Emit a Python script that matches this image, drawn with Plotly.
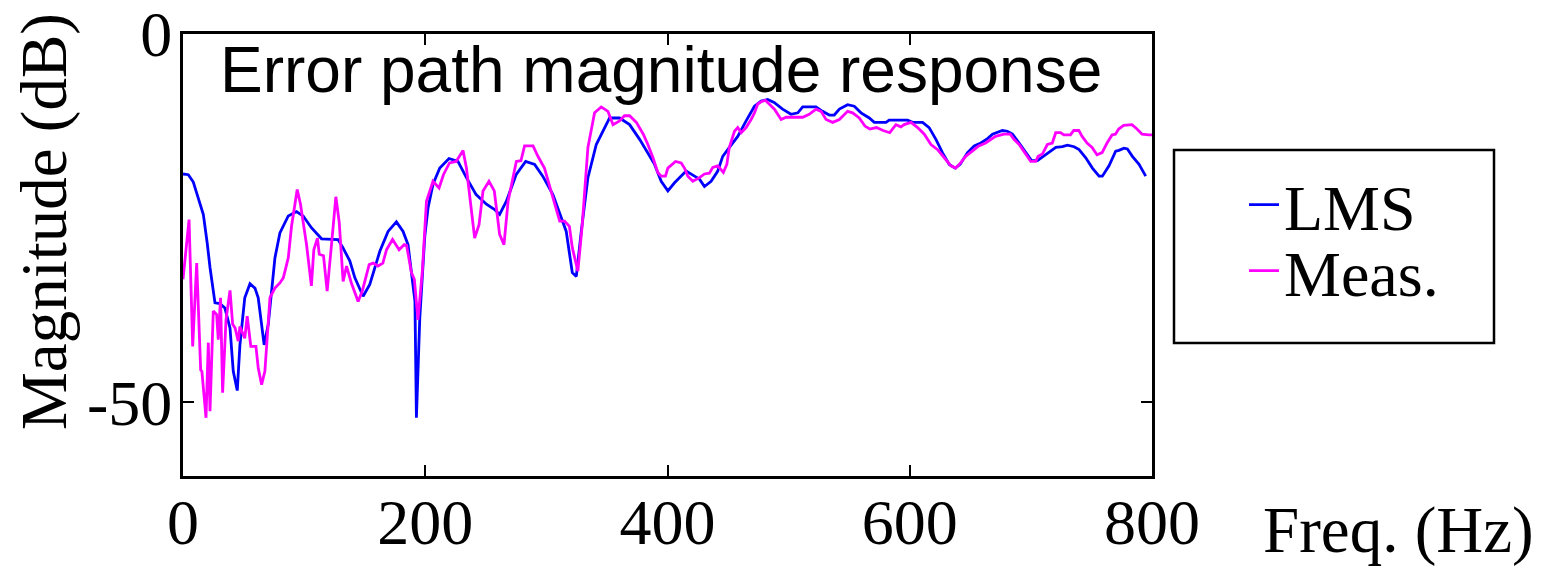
import plotly.graph_objects as go

# ---------------- data ----------------
lms_freq = [0, 4.4, 8.5, 12.6, 16.8, 20, 22.3, 26.4, 30.5, 34.6, 38.8, 41.5, 44.8, 47, 51, 55.3, 59.4,
            62.1, 67, 70.4, 75.9, 80, 86.9, 93.7, 99.2, 106, 110, 114.4, 128, 132, 137.7, 141.9, 148.7,
            154.2, 162.5, 169.3, 176.2, 181.7, 185.8, 190, 191.5, 192.7, 195.5, 199.6, 202.3, 206.4, 212,
            219.6, 227, 234, 242, 250.5, 257, 261.4, 267, 275, 282.9, 290.3, 297, 305.4, 311, 316.4, 321.4,
            324.7, 328.8, 334.3, 341.2, 352.2, 360.4, 368.7, 377, 382.4, 389.3, 394.8, 400.3, 405.8, 411.3,
            415.4, 422.3, 426.4, 430.5, 436, 441.5, 445.6, 451.1, 458, 464.9, 471.8, 477.3, 482.7, 488, 495,
            502, 507.6, 511.6, 522.6, 528, 533.6, 537.7, 541.9, 548.7, 554.2, 559.8, 566.6, 570.7, 580.4,
            583, 598.2, 602.3, 610.6, 616, 621.6, 627, 632.6, 637.5, 641.6, 647.7, 653.2, 658.7, 664.2,
            668.3, 672.4, 676.5, 680.6, 684.8, 690.3, 695.8, 700.7, 705.4, 709.5, 715, 720.6, 726, 730.2,
            735.7, 739.8, 745.3, 750.8, 756.3, 759, 764.5, 770, 772.7, 776.9, 779.7, 783.8, 789.3, 794.8]
lms_db = [-19.0, -19.1, -20.1, -22.2, -24.5, -28.4, -31.7, -36.5, -36.6, -37.2, -39.9, -45.8, -48.4, -42.2,
          -35.8, -33.9, -34.5, -35.8, -42.2, -39.4, -30.4, -27.0, -24.7, -24.1, -24.7, -26.3, -27.0, -27.8,
          -27.9, -29.0, -30.8, -33.1, -35.6, -34.0, -29.5, -26.8, -25.5, -26.8, -28.6, -33.8, -36.3, -52.1,
          -38.5, -27.5, -23.6, -20.4, -18.2, -16.9, -17.3, -19.5, -21.8, -23.1, -23.8, -24.5, -22.7, -19.1,
          -17.3, -17.7, -19.3, -21.8, -24.5, -26.8, -32.4, -32.9, -26.8, -19.5, -15.0, -11.4, -11.4, -12.3,
          -14.3, -15.8, -17.7, -20.0, -21.3, -20.2, -19.3, -18.6, -19.3, -19.7, -20.7, -20.0, -18.6, -16.6,
          -15.4, -13.9, -11.8, -9.8, -9.1, -8.9, -9.3, -10.2, -10.9, -10.7, -9.9, -9.9, -10.5, -11.0, -11.0,
          -10.2, -9.6, -9.8, -10.7, -11.4, -12.0, -12.0, -11.7, -11.7, -12.0, -12.0, -12.7, -14.3, -16.1,
          -17.7, -18.2, -17.7, -16.1, -15.2, -14.8, -14.2, -13.6, -13.4, -13.1, -13.2, -13.6, -14.8, -16.1,
          -17.2, -17.2, -16.7, -16.1, -15.4, -15.3, -15.1, -15.3, -15.7, -16.8, -18.2, -19.3, -19.3, -17.9,
          -15.9, -15.8, -15.5, -15.6, -16.6, -17.7, -19.3]

meas_freq = [0, 5, 8, 11.3, 14.6, 15.6, 19, 20.9, 22.3, 25, 27.8, 29.1, 31, 32.7, 35.5, 38.8, 41, 43, 45.6,
             47, 51, 53, 56, 60.2, 62.1, 64.9, 67.6, 71.8, 75.9, 80, 82.8, 86.9, 89.6, 94.3, 97, 102, 106,
             108, 111, 112.5, 116, 119, 122.6, 126.2, 129, 132.2, 135, 139, 144.6, 148, 153.7, 157, 161, 165,
             168, 173, 178.4, 182.6, 184.6, 188.6, 191, 194, 197.6, 201, 206.4, 211.4, 215, 220, 225.5, 231.2,
             234, 238, 240.8, 244.4, 247.7, 252.6, 257, 261.4, 265, 268.4, 275.2, 279, 282, 289, 293, 298.4,
             305.4, 311, 315, 319, 321.4, 326, 329.6, 334.3, 339.8, 345.3, 350.8, 355, 360.4, 364.5, 368.7,
             374.3, 380, 383.8, 388, 392, 394.8, 398.3, 400.3, 406.6, 411.3, 414, 416.8, 420.9, 426.4, 430.5,
             434.6, 437.4, 441.5, 446.1, 449, 451, 455.3, 458, 460.8, 464.9, 469, 471.8, 474.5, 477.3, 480.8,
             484.7, 488.3, 491, 493.8, 497.9, 503, 511.6, 517, 522.6, 526.8, 530.9, 536.4, 541.9, 548.7,
             552.8, 558.3, 563, 567, 572.5, 578, 583.5, 588.6, 592.7, 595.4, 601, 606.5, 612, 617.5, 623,
             628.5, 634, 638, 642, 646.2, 651.6, 657, 662.6, 666.7, 670.8, 677.7, 683, 686, 690.3, 695.8,
             699.9, 704, 706, 709.5, 713.6, 717.7, 720.5, 724.5, 727.2, 732.7, 735.4, 739.6, 742.3, 746.4,
             750.5, 754.6, 758.8, 762.9, 767, 769.8, 772.5, 776.6, 783.5, 787.6, 791.8, 797.2, 800]
meas_db = [-33.3, -25.2, -42.4, -31.1, -45.6, -45.8, -52.1, -41.9, -51.2, -37.6, -38.1, -41.5, -35.8, -48.7,
           -38.8, -34.8, -39.4, -39.9, -41.7, -39.7, -41.3, -38.3, -42.4, -42.4, -45.3, -47.6, -45.8, -35.8,
           -34.5, -33.8, -33.1, -30.4, -26.1, -21.1, -23.1, -28.6, -34.2, -29.3, -27.7, -29.9, -30.1, -34.9,
           -28.6, -22.1, -25.6, -33.6, -31.5, -33.8, -36.3, -34.9, -31.3, -31.1, -31.5, -31.1, -29.3, -27.9,
           -29.3, -28.6, -28.7, -32.4, -33.3, -38.8, -32.2, -22.7, -20.0, -20.9, -19.1, -17.5, -17.3, -15.8,
           -18.2, -24.0, -27.7, -25.9, -21.3, -20.0, -21.3, -27.2, -28.6, -22.7, -17.3, -17.2, -15.2, -15.2,
           -16.6, -18.2, -22.2, -25.4, -25.4, -26.1, -29.0, -32.2, -25.9, -15.4, -10.7, -9.9, -10.5, -12.3,
           -11.8, -11.1, -11.1, -12.0, -13.6, -15.0, -16.8, -18.8, -19.3, -19.3, -18.2, -17.3, -17.5, -18.2,
           -19.3, -20.0, -19.5, -19.0, -18.9, -18.1, -17.9, -18.8, -17.7, -15.4, -13.2, -12.7, -13.4, -12.7,
           -11.6, -10.7, -9.5, -9.2, -9.0, -9.6, -10.2, -10.9, -11.6, -11.3, -11.3, -11.3, -10.9, -10.2,
           -10.5, -11.6, -12.0, -11.6, -10.5, -10.7, -11.4, -12.5, -12.9, -12.7, -13.1, -13.4, -12.3, -12.6,
           -12.3, -12.0, -12.7, -13.6, -15.0, -15.7, -16.8, -17.9, -18.2, -17.5, -16.6, -15.9, -15.2, -14.8,
           -14.4, -13.9, -13.6, -13.6, -14.3, -15.0, -16.3, -17.3, -17.3, -16.6, -16.3, -15.0, -14.8, -13.4,
           -13.4, -13.7, -13.7, -13.1, -13.1, -13.9, -14.8, -15.4, -16.4, -16.1, -14.8, -13.7, -13.6, -12.9,
           -12.4, -12.3, -12.9, -13.6, -13.7, -13.7]

x_ticks = [0, 200, 400, 600, 800]
x_tick_labels = ["0", "200", "400", "600", "800"]
y_ticks = [0, -50]
y_tick_labels = ["0", "-50"]

series_names = ["LMS", "Meas."]
series_colors = ["#0000FF", "#FF00FF"]

# ---------------- figure ----------------
W, H = 1543, 568
ML, MR, MT, MB = 183, 391, 34, 92
PW, PH = W - ML - MR, H - MT - MB

def px_x(px):
    return (px - ML) / PW

def px_y(py):
    return (H - MB - py) / PH

SERIF = "Liberation Serif, Times New Roman, serif"
SANS = "Liberation Sans, Arial, sans-serif"

fig = go.Figure()
fig.add_trace(go.Scatter(x=lms_freq, y=lms_db, mode="lines", name=series_names[0],
                         line=dict(color=series_colors[0], width=2.8), legend="legend",
                         cliponaxis=False))
fig.add_trace(go.Scatter(x=meas_freq, y=meas_db, mode="lines", name=series_names[1],
                         line=dict(color=series_colors[1], width=2.8), legend="legend2",
                         cliponaxis=False))

axis_common = dict(showline=True, linecolor="black", linewidth=3, mirror="ticks",
                   ticks="inside", ticklen=11, tickwidth=2, tickcolor="black",
                   showgrid=False, zeroline=False, automargin=False,
                   ticklabeloverflow="allow",
                   tickfont=dict(family=SERIF, size=64, color="black"))

fig.update_xaxes(range=[0, 800], tickvals=x_ticks, ticktext=x_tick_labels,
                 ticklabelstandoff=-12, **axis_common)
fig.update_yaxes(range=[-60, 0], tickvals=y_ticks, ticktext=y_tick_labels,
                 ticklabelstandoff=-5, **axis_common)

legend_common = dict(font=dict(family=SERIF, size=64, color="black"),
                     bgcolor="rgba(0,0,0,0)", borderwidth=0,
                     xanchor="left", yanchor="middle", itemwidth=30)

fig.update_layout(
    width=W, height=H,
    margin=dict(l=ML, r=MR, t=MT, b=MB, pad=0, autoexpand=False),
    paper_bgcolor="white", plot_bgcolor="white",
    showlegend=True,
    legend=dict(x=px_x(1244), y=px_y(205), **legend_common),
    legend2=dict(x=px_x(1244), y=px_y(271), **legend_common),
    shapes=[dict(type="rect", xref="paper", yref="paper",
                 x0=px_x(1174), x1=px_x(1494), y0=px_y(343), y1=px_y(150),
                 line=dict(color="black", width=2.5), fillcolor="rgba(0,0,0,0)")],
    annotations=[
        dict(text="Error path magnitude response", xref="paper", yref="paper",
             x=px_x(661), y=px_y(70), xanchor="center", yanchor="middle", showarrow=False,
             font=dict(family=SANS, size=64, color="black")),
        dict(text="Magnitude (dB)", xref="paper", yref="paper",
             x=px_x(44), y=px_y(222), xanchor="center", yanchor="middle", showarrow=False,
             textangle=-90, font=dict(family=SERIF, size=65, color="black")),
        dict(text="Freq. (Hz)", xref="paper", yref="paper",
             x=px_x(1398), y=px_y(530), xanchor="center", yanchor="middle", showarrow=False,
             font=dict(family=SERIF, size=65, color="black")),
    ],
)

fig.write_html("out.html", config={"displayModeBar": False},
               post_script="document.body.style.margin='0px';document.body.style.overflow='hidden';")
